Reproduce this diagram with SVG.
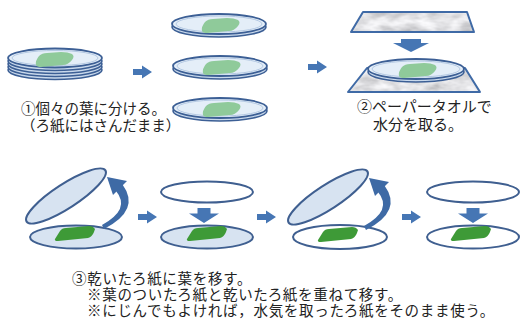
<svg xmlns="http://www.w3.org/2000/svg" xmlns:xlink="http://www.w3.org/1999/xlink" width="521" height="323" viewBox="0 0 521 323">
  <style>
    .rim { fill: #c9d9ec; stroke: #3c5f95; stroke-width: 1.6; }
    .lid { fill: #e4eef8; stroke: #3c5f95; stroke-width: 1.8; }
    .inner { fill: none; stroke: #b4c9e3; stroke-width: 1; }
    .plate { fill: #d7e3f1; stroke: #3f5f90; stroke-width: 2; }
    .plate-w { fill: #ffffff; stroke: #3f5f90; stroke-width: 2; }
    .leaf-l { fill: #8fca9a; }
    .leaf-d { fill: #3e9a37; }
    .arrow { fill: #4676b4; }
    .flip { fill: #3e6aa5; }
    .towel { stroke: #3f6aa6; stroke-width: 2; fill: none; stroke-linejoin: round; }
    text { font-family: "Liberation Sans", "Noto Sans CJK JP", sans-serif; fill: #222222; }
  </style>
  <defs>
    <path id="leafL" class="leaf-l" d="M-19,6 Q-20,2 -16,-3 Q-13,-6 -8,-6 L6,-7 Q13,-7 17,-5 Q20,-3 17,1 Q13,6 8,6 L-14,8 Q-18,8 -19,6 Z"/>
    <path id="leafD" class="leaf-d" d="M-20,6 L-15,-2 Q-13,-5 -9,-5 L14,-7 Q18,-7 20,-4 L19,-1 Q17,4 13,5 L-17,8 Q-21,8 -20,6 Z"/>
    <path id="arrR" class="arrow" d="M0,-3 H9 V-6.5 L19,0 L9,6.5 V3 H0 Z"/>
    <path id="arrD" class="arrow" d="M-6.5,0 H6.5 V5.5 H15 L0,15 L-15,5.5 H-6.5 Z"/>
    <!-- tapered flip arrow: crescent body plus head -->
    <g id="flipArrow">
      <path class="flip" d="M104,229 Q141,210 122.5,184.5 L116,191 Q131,209 102,225 Z"/>
      <polygon class="flip" points="107,177 127,181 113,195"/>
    </g>
    <filter id="marble" x="0" y="0" width="100%" height="100%">
      <feTurbulence type="fractalNoise" baseFrequency="0.05 0.11" numOctaves="3" seed="7"/>
      <feColorMatrix type="matrix" values="0.75 0 0 0 0.38  0.75 0 0 0 0.38  0.75 0 0 0 0.4  0 0 0 0 1"/>
    </filter>
    <clipPath id="towelTop"><polygon points="363,12 467,12 474,32 351,32"/></clipPath>
    <clipPath id="towelBottom"><polygon points="367,68 465,68 480,92 348,92"/></clipPath>
  </defs>

  <!-- step 1: stack of filter papers -->
  <g id="stack" transform="translate(55,58)">
    <ellipse cx="0" cy="12" rx="47" ry="9.5" class="rim"/>
    <ellipse cx="0" cy="9" rx="47" ry="9.5" class="rim"/>
    <ellipse cx="0" cy="6" rx="47" ry="9.5" class="rim"/>
    <ellipse cx="0" cy="3" rx="47" ry="9.5" class="rim"/>
    <ellipse cx="0" cy="0" rx="47" ry="9.5" class="lid"/>
    <ellipse cx="0" cy="0" rx="43" ry="7.5" class="inner"/>
    <use xlink:href="#leafL" x="0" y="1"/>
  </g>

  <!-- step 1: separated papers -->
  <g id="dish-1" transform="translate(219,24)">
    <ellipse cx="0" cy="3" rx="47" ry="10" class="rim"/>
    <ellipse cx="0" cy="0" rx="47" ry="10" class="lid"/>
    <ellipse cx="0" cy="0" rx="43" ry="8" class="inner"/>
    <use xlink:href="#leafL" x="2" y="1"/>
  </g>
  <g id="dish-2" transform="translate(220,66)">
    <ellipse cx="0" cy="3" rx="47" ry="10" class="rim"/>
    <ellipse cx="0" cy="0" rx="47" ry="10" class="lid"/>
    <ellipse cx="0" cy="0" rx="43" ry="8" class="inner"/>
    <use xlink:href="#leafL" x="2" y="1"/>
  </g>
  <g id="dish-3" transform="translate(220,108)">
    <ellipse cx="0" cy="3" rx="47" ry="10" class="rim"/>
    <ellipse cx="0" cy="0" rx="47" ry="10" class="lid"/>
    <ellipse cx="0" cy="0" rx="43" ry="8" class="inner"/>
    <use xlink:href="#leafL" x="2" y="1"/>
  </g>

  <!-- step 2: paper towels above and below -->
  <g id="towel-top">
    <rect x="350" y="11" width="126" height="23" filter="url(#marble)" clip-path="url(#towelTop)"/>
    <polygon points="363,12 467,12 474,32 351,32" class="towel"/>
  </g>
  <g id="towel-bottom">
    <rect x="346" y="66" width="136" height="28" filter="url(#marble)" clip-path="url(#towelBottom)"/>
    <polygon points="367,68 465,68 480,92 348,92" class="towel"/>
  </g>
  <g id="dish-towel" transform="translate(416,69)">
    <ellipse cx="0" cy="3" rx="48" ry="10" class="rim"/>
    <ellipse cx="0" cy="0" rx="48" ry="10" class="lid"/>
    <ellipse cx="0" cy="0" rx="44" ry="8" class="inner"/>
    <use xlink:href="#leafL" x="2" y="1"/>
  </g>

  <!-- step 3: transfer onto dry paper -->
  <g id="lid-a">
    <ellipse cx="66" cy="196" rx="47" ry="12" transform="rotate(-33 66 196)" class="plate"/>
  </g>
  <g id="plate-a">
    <ellipse cx="76" cy="237" rx="46" ry="11.5" class="plate"/>
    <use xlink:href="#leafD" x="75" y="233"/>
  </g>
  <g id="top-b">
    <ellipse cx="207" cy="192" rx="46" ry="10.5" class="plate-w"/>
  </g>
  <g id="plate-b">
    <ellipse cx="207" cy="237" rx="46" ry="11.5" class="plate"/>
    <use xlink:href="#leafD" x="207" y="233"/>
  </g>
  <g id="lid-c">
    <ellipse cx="328" cy="197" rx="47" ry="12" transform="rotate(-33 328 197)" class="plate"/>
  </g>
  <g id="plate-c">
    <ellipse cx="340" cy="237" rx="47" ry="12" class="plate-w"/>
    <use xlink:href="#leafD" x="338" y="234"/>
  </g>
  <g id="top-d">
    <ellipse cx="473" cy="192" rx="46" ry="10.5" class="plate-w"/>
  </g>
  <g id="plate-d">
    <ellipse cx="473" cy="237" rx="46" ry="11.5" class="plate-w"/>
    <use xlink:href="#leafD" x="471" y="233"/>
  </g>

  <!-- connectors -->
  <g id="connectors">
    <use xlink:href="#arrR" x="133" y="72"/>
    <use xlink:href="#arrR" x="308" y="67"/>
    <path class="arrow" d="M401,39 H421 V43 H429 L411,52 L393,43 H401 Z"/>
    <use xlink:href="#arrR" x="138" y="217"/>
    <use xlink:href="#arrR" x="257" y="217"/>
    <use xlink:href="#arrR" x="402" y="217"/>
    <use xlink:href="#arrD" x="204" y="208"/>
    <use xlink:href="#arrD" x="473" y="208"/>
    <use xlink:href="#flipArrow"/>
    <use xlink:href="#flipArrow" x="262" y="1"/>
  </g>

  <!-- captions -->
  <g id="caption-1" font-size="14.5">
    <text x="21" y="114">①個々の葉に分ける。</text>
    <text x="21" y="131">（ろ紙にはさんだまま）</text>
  </g>
  <g id="caption-2" font-size="15">
    <text x="357" y="112">②ペーパータオルで</text>
    <text x="373" y="130">水分を取る。</text>
  </g>
  <g id="caption-3" font-size="14.5" letter-spacing="0.7">
    <text x="72" y="284">③乾いたろ紙に葉を移す。</text>
    <text x="87" y="300">※葉のついたろ紙と乾いたろ紙を重ねて移す。</text>
    <text x="87" y="316">※にじんでもよければ，水気を取ったろ紙をそのまま使う。</text>
  </g>
</svg>
